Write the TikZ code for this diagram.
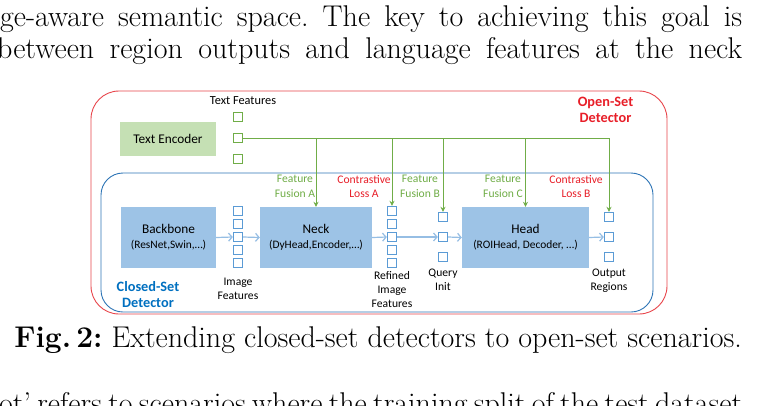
\documentclass[tikz,border=0pt]{standalone}
\usepackage{fontspec}
\newfontfamily\calfont{Carlito}
\usetikzlibrary{arrows.meta}
\definecolor{redline}{RGB}{232,70,76}
\definecolor{blueline}{RGB}{46,117,182}
\definecolor{boxblue}{RGB}{157,195,230}
\definecolor{boxgreen}{RGB}{197,224,180}
\definecolor{gline}{RGB}{112,173,71}
\definecolor{sqblue}{RGB}{91,155,213}
\definecolor{redtxt}{RGB}{232,30,40}
\definecolor{bluetxt}{RGB}{0,112,192}
\definecolor{arrblue}{RGB}{150,190,228}
\tikzset{
  body/.style={inner sep=0pt, font=\fontsize{30}{33}\selectfont\frenchspacing},
  bigbox/.style={fill=boxblue, draw=none, inner sep=0pt, align=center, font=\calfont\fontsize{13.3}{16}\selectfont},
  sqb/.style={draw=sqblue, fill=white, line width=0.9pt, minimum size=9.5pt, inner sep=0pt},
  sqg/.style={draw=gline, fill=white, line width=0.9pt, minimum size=9.5pt, inner sep=0pt},
  lbl/.style={align=center, inner sep=0pt, font=\calfont\fontsize{11.6}{14.5}\selectfont},
  ttl/.style={align=center, inner sep=0pt, font=\calfont\bfseries\fontsize{14.3}{16}\selectfont},
  garrow/.style={draw=gline, line width=0.9pt, -{Stealth[length=5pt,width=5pt]}},
  barrow/.style={draw=arrblue, line width=1.2pt, -{Straight Barb[length=3.5pt,width=8pt]}},
}
\begin{document}
\begin{tikzpicture}[x=1pt,y=-1pt]
\useasboundingbox (0,0) rectangle (760,405);
\clip (0,0) rectangle (760,405);
\fill[white] (0,0) rectangle (760,405);
% body text
\node[body, anchor=base west] (l1) at (0,26) {\makebox[742pt][s]{ge-aware semantic space. The key to achieving this goal is}};
\node[body, anchor=base west] (l2) at (-3,58) {\makebox[745pt][s]{between region outputs and language features at the neck}};
\node[body, anchor=base east] (cap) at (742,347) {\textbf{Fig.\,2:} Extending closed-set detectors to open-set scenarios.};
\node[body, anchor=base west] (l3) at (-1,413) {\makebox[743pt][s]{ot’ refers to scenarios where the training split of the test dataset}};
% frames
\draw[redline, line width=0.9pt, rounded corners=28pt] (91,91) rectangle (667,314);
\draw[blueline, line width=0.9pt, rounded corners=22pt] (101,173) rectangle (653,312);
% boxes
\node[bigbox, fill=boxgreen, minimum width=96pt, minimum height=34pt] (te) at (168,139) {Text Encoder};
\node[bigbox, minimum width=95pt, minimum height=61pt] (bb) at (168.5,237.5) {Backbone\\[-1pt]{\fontsize{11.4}{14}\selectfont(ResNet,Swin,…)}};
\node[bigbox, minimum width=112pt, minimum height=61pt] (neck) at (316,237.5) {Neck\\[-1pt]{\fontsize{11.4}{14}\selectfont(DyHead,Encoder,…)}};
\node[bigbox, minimum width=127pt, minimum height=61pt] (head) at (525.5,237.5) {Head\\[-1pt]{\fontsize{11.4}{14}\selectfont(ROIHead, Decoder, …)}};
% squares
\node[sqg] (t1) at (238,117) {};
\node[sqg] (t2) at (238,138) {};
\node[sqg] (t3) at (238,159) {};
\foreach \i/\y in {1/211,2/224,3/237,4/250,5/263}{
  \node[sqb] (if\i) at (238,\y) {};
  \node[sqb] (rf\i) at (392,\y) {};
}
\foreach \i/\y in {1/217,2/237,3/257}{
  \node[sqb] (q\i) at (443,\y) {};
  \node[sqb] (o\i) at (609,\y) {};
}
% green connectors
\draw[garrow] (t2.east) -| (o1.north);
\draw[garrow] (neck.north |- t2.east) -- (neck.north);
\draw[garrow] (rf1.north |- t2.east) -- (rf1.north);
\draw[garrow] (q1.north |- t2.east) -- (q1.north);
\draw[garrow] (head.north |- t2.east) -- (head.north);
% blue arrows
\draw[barrow] (bb.east) -- (if3.west);
\draw[barrow] (if3.east) -- (neck.west);
\draw[barrow] (neck.east) -- (rf3.west);
\draw[barrow] (rf3.east) -- (q2.west);
\draw[barrow] (q2.east) -- (head.west);
\draw[barrow] (head.east) -- (o2.west);
% labels
\node[lbl, font=\calfont\fontsize{12.3}{14.5}\selectfont] (tf) at (243,101) {Text Features};
\node[ttl, text=redtxt] (osd) at (605.5,110) {Open-Set\\Detector};
\node[ttl, text=bluetxt] (csd) at (148,295) {Closed-Set\\Detector};
\node[lbl, text=gline] (ffa) at (295,186.5) {Feature\\Fusion A};
\node[lbl, text=redtxt] (cla) at (364,186.5) {Contrastive\\Loss A};
\node[lbl, text=gline] (ffb) at (420,186.5) {Feature\\Fusion B};
\node[lbl, text=gline] (ffc) at (503,186.5) {Feature\\Fusion C};
\node[lbl, text=redtxt] (clb) at (576,186.5) {Contrastive\\Loss B};
\node[lbl] (imf) at (238,289) {Image\\Features};
\node[lbl, font=\calfont\fontsize{11.6}{14}\selectfont] (rif) at (392,290) {Refined\\Image\\Features};
\node[lbl] (qi) at (443,280) {Query\\Init};
\node[lbl] (orr) at (609,280.5) {Output\\Regions};
\end{tikzpicture}
\end{document}
